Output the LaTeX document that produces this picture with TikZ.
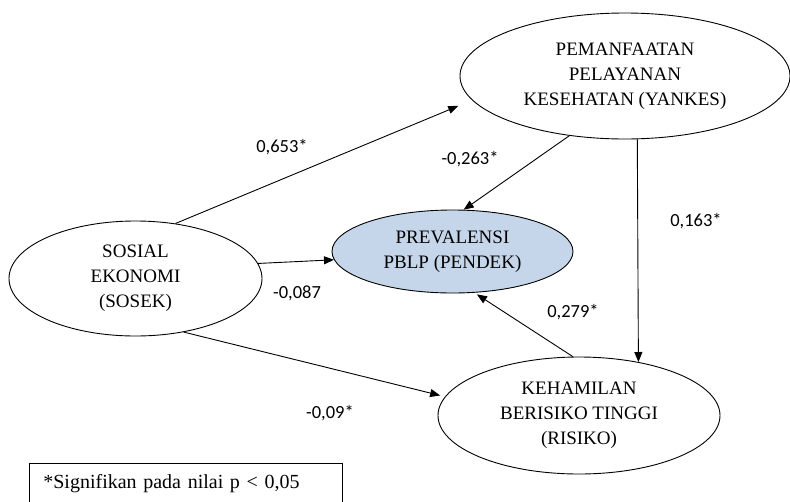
\documentclass[tikz,border=0pt]{standalone}
\usepackage{fontspec}
\setmainfont{Liberation Serif}
\newfontfamily\coeffont{Carlito}
\usetikzlibrary{shapes.geometric,arrows.meta}
\definecolor{prevblue}{RGB}{198,214,234}

\begin{document}
\begin{tikzpicture}[x=1pt,y=-1pt,
    var/.style={shape=ellipse,draw=black,line width=0.9pt,inner sep=0pt,align=center,font=\fontsize{19}{25}\selectfont},
    coef/.style={font=\coeffont\fontsize{18.5}{20}\selectfont},
    effect/.style={draw=black,line width=0.9pt,-{Triangle[length=10pt,width=8pt]}}]
    \useasboundingbox (0,0) rectangle (790,501);

    \node[var,minimum width=330,minimum height=126] (YANKES) at (625,76) {PEMANFAATAN\\PELAYANAN\\KESEHATAN (YANKES)};
    \node[var,minimum width=253,minimum height=115] (SOSEK) at (135.5,278.5) {SOSIAL\\EKONOMI\\(SOSEK)};
    \node[var,minimum width=241,minimum height=83,fill=prevblue] (PBLP) at (452.5,251.5) {PREVALENSI\\PBLP (PENDEK)};
    \node[var,minimum width=282,minimum height=117] (RISIKO) at (579,415.5) {KEHAMILAN\\BERISIKO TINGGI\\(RISIKO)};

    %\path (SOSEK) edge[effect] (YANKES);
    \path (SOSEK.54) edge[effect,shorten >=15pt] (YANKES.189.5);
    \path (YANKES.227) edge[effect] (PBLP.75.8);
    \path (SOSEK.7) edge[effect] (PBLP.184.2);
    \path (SOSEK.-48) edge[effect,shorten >=5pt] (RISIKO.172.6);
    \path (RISIKO.96.8) edge[effect,shorten >=3pt] (PBLP.-62.6);
    \path (YANKES.281.5) edge[effect] (RISIKO.42.2);

    \node[coef] (b1) at (282,147) {0,653*};
    \node[coef] (b2) at (470,159) {-0,263*};
    \node[coef] (b3) at (297,293) {-0,087};
    \node[coef] (b4) at (696,221) {0,163*};
    \node[coef] (b5) at (573,312) {0,279*};
    \node[coef] (b6) at (330,413) {-0,09*};

    \node[draw=black,line width=0.7pt,anchor=north west,inner xsep=14pt,minimum height=40,text width=285pt,align=left,font=\fontsize{20}{22}\selectfont] (note) at (29,463) {*Signifikan pada nilai p < 0,05};
\end{tikzpicture}
\end{document}
